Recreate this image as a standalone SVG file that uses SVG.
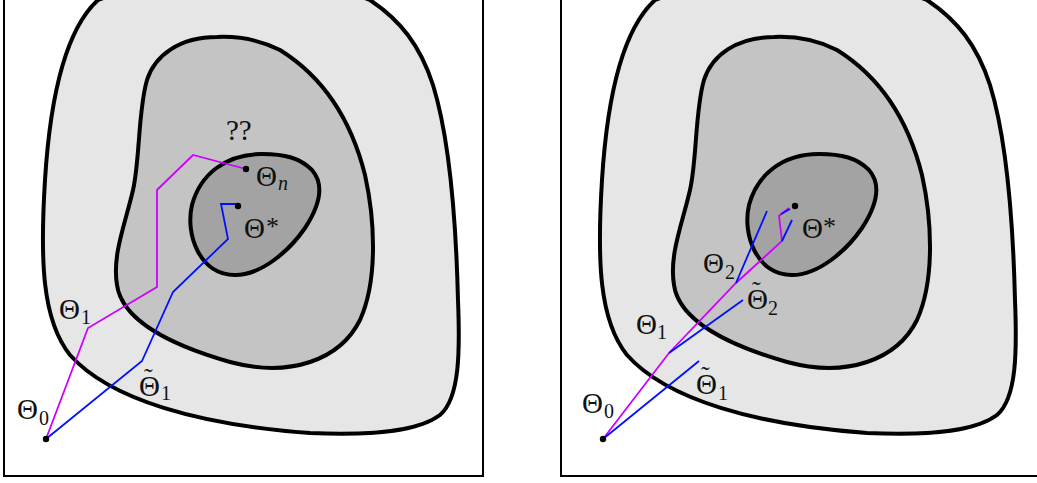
<svg xmlns="http://www.w3.org/2000/svg" width="1037" height="483" viewBox="0 0 1037 483">
<style>
.frame{fill:#ffffff;stroke:#000;stroke-width:2}
.c{stroke:#000;stroke-width:4;stroke-linejoin:round}
.c1{fill:#e6e6e6}
.c2{fill:#c4c4c4}
.c3{fill:#a3a3a3}
.mag{fill:none;stroke:#cc00ff;stroke-width:1.8;stroke-linejoin:miter}
.blu{fill:none;stroke:#0010ff;stroke-width:1.8;stroke-linejoin:miter}
.dot{fill:#000}
text{font-family:"Liberation Serif","DejaVu Serif",serif;fill:#111}
.L{font-size:29px}
.s{font-size:20px}
.st{font-size:26px}
.tl{font-size:26px}
.i{font-style:italic}
</style>
<defs>
<path id="outer" d="M 98,0 C 65,30 50,100 45,180 C 40,260 42,320 70,355 C 110,400 200,425 310,433 C 380,436 420,430 440,415 C 460,398 460,350 458,300 C 456,220 450,140 433,85 C 420,45 400,20 370,0 C 340,-15 130,-15 98,0 Z"/>
<path id="middle" d="M 217,37 C 180,37 155,55 147,80 C 138,110 140,160 133,190 C 125,225 112,255 117,285 C 122,320 170,345 230,362 C 290,378 340,360 360,320 C 378,280 375,220 365,175 C 350,115 320,75 280,50 C 260,40 240,36 217,37 Z"/>
<path id="inner" d="M 262,154 C 225,154 200,175 192,205 C 185,235 200,275 235,275 C 262,275 290,250 305,228 C 320,205 325,185 312,170 C 300,158 285,154 262,154 Z"/>
</defs>

<g id="left-panel">
  <rect id="left-frame" class="frame" x="4" y="-10" width="479" height="486"/>
  <g id="left-level1"><use href="#outer" class="c c1"/></g>
  <g id="left-level2"><use href="#middle" class="c c2"/></g>
  <g id="left-level3"><use href="#inner" class="c c3"/></g>
</g>

<g id="right-panel">
  <rect id="right-frame" class="frame" x="561" y="-10" width="500" height="486"/>
  <g id="right-level1" transform="translate(557,0)"><use href="#outer" class="c c1"/></g>
  <g id="right-level2" transform="translate(557,0)"><use href="#middle" class="c c2"/></g>
  <g id="right-level3" transform="translate(557,0)"><use href="#inner" class="c c3"/></g>
</g>

<g id="connectors">
  <polyline class="mag" points="46,439 88,328 157,287 157,190 193,155 246,169"/>
  <polyline class="blu" points="46,439 142,361 173,292 228,239 221,204 238,204"/>
  <polyline class="mag" points="603,439 669,353 736,283 782,241 779,216 789,208"/>
  <line class="blu" x1="603" y1="439" x2="699" y2="361"/>
  <line class="blu" x1="669" y1="353" x2="743" y2="300"/>
  <line class="blu" x1="736" y1="283" x2="767" y2="211"/>
  <line class="blu" x1="782" y1="241" x2="792" y2="220"/>
  <line class="blu" x1="781" y1="214" x2="790" y2="209"/>
</g>

<g id="left-theta0"><circle class="dot" cx="46" cy="439" r="3.2"/><text class="L" x="17" y="419">Θ</text><text class="s" x="39" y="425">0</text></g>
<g id="left-theta1"><text class="L" x="59" y="319">Θ</text><text class="s" x="81" y="324">1</text></g>
<g id="left-theta1t"><text class="L"><tspan class="tl" x="144" y="386">˜</tspan><tspan x="139" y="396">Θ</tspan><tspan class="s" x="161" y="400">1</tspan></text></g>
<g id="left-thetan"><circle class="dot" cx="246" cy="169" r="3.2"/><text class="L" x="256" y="186">Θ</text><text class="s i" x="278" y="190">n</text></g>
<g id="left-thetastar"><circle class="dot" cx="238" cy="206" r="3.2"/><text class="L" x="244" y="238">Θ</text><text class="st" x="266" y="235">*</text></g>
<g id="left-qq"><text class="L" x="226" y="140">??</text></g>

<g id="right-theta0"><circle class="dot" cx="603" cy="439" r="3.2"/><text class="L" x="582" y="413">Θ</text><text class="s" x="604" y="418">0</text></g>
<g id="right-theta1"><text class="L" x="636" y="334">Θ</text><text class="s" x="657" y="339">1</text></g>
<g id="right-theta1t"><text class="L"><tspan class="tl" x="701" y="384">˜</tspan><tspan x="696" y="394">Θ</tspan><tspan class="s" x="718" y="400">1</tspan></text></g>
<g id="right-theta2"><text class="L" x="703" y="273">Θ</text><text class="s" x="725" y="279">2</text></g>
<g id="right-theta2t"><text class="L"><tspan class="tl" x="752" y="299">˜</tspan><tspan x="747" y="309">Θ</tspan><tspan class="s" x="768" y="315">2</tspan></text></g>
<g id="right-thetastar"><circle class="dot" cx="795" cy="206" r="3.2"/><text class="L" x="802" y="238">Θ</text><text class="st" x="823" y="235">*</text></g>
</svg>
